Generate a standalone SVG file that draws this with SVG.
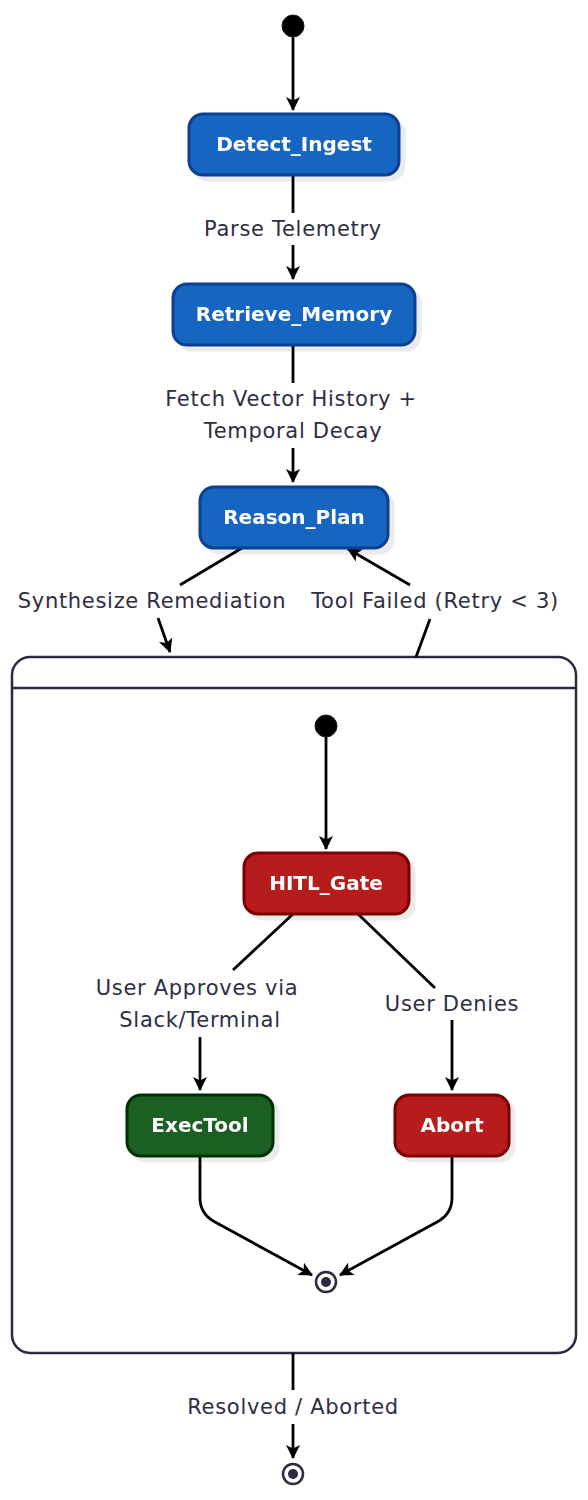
<svg xmlns="http://www.w3.org/2000/svg" width="588" height="1500" viewBox="0 0 588 1500">
<defs>
<marker id="ah" viewBox="0 0 14 14" markerWidth="14" markerHeight="14" refX="13" refY="7" orient="auto" markerUnits="userSpaceOnUse">
<path d="M0,0 L14,7 L0,14 L3.5,7 Z" fill="#000"/>
</marker>
<filter id="sh" x="-10%" y="-10%" width="130%" height="140%">
<feOffset dx="5" dy="5" in="SourceAlpha" result="o"/>
<feFlood flood-color="#000" flood-opacity="0.08"/>
<feComposite operator="in" in2="o"/>
<feMerge><feMergeNode/><feMergeNode in="SourceGraphic"/></feMerge>
</filter>
<style>
.blue{fill:#1565C0;stroke:#0D3F91;stroke-width:3}
.red{fill:#B71C1C;stroke:#7A0000;stroke-width:3}
.green{fill:#1B5E20;stroke:#053305;stroke-width:3}
.nt{font-family:"DejaVu Sans",sans-serif;font-weight:bold;font-size:20px;fill:#fff;text-anchor:middle;dominant-baseline:central}
.lb{font-family:"DejaVu Sans",sans-serif;font-size:21px;letter-spacing:0.7px;fill:#2d2d44;text-anchor:middle;dominant-baseline:central}
.ln{fill:none;stroke:#000;stroke-width:2.8}
.ar{marker-end:url(#ah)}
</style>
</defs>
<g id="container">
<rect x="12" y="657" width="564" height="696" rx="18" fill="none" stroke="#2a2a40" stroke-width="2.5"/>
<line x1="12" y1="688" x2="576" y2="688" stroke="#2a2a40" stroke-width="2.5"/>
</g>
<g id="connectors">
<line class="ln ar" x1="293" y1="37" x2="293" y2="110"/>
<line class="ln" x1="293" y1="175" x2="293" y2="213"/>
<line class="ln ar" x1="293" y1="245" x2="293" y2="279"/>
<line class="ln" x1="293" y1="345" x2="293" y2="383"/>
<line class="ln ar" x1="293" y1="448" x2="293" y2="482"/>
<line class="ln" x1="242" y1="548" x2="180" y2="585"/>
<line class="ln ar" x1="158" y1="618" x2="170" y2="652"/>
<line class="ln" x1="416" y1="657" x2="430" y2="619"/>
<line class="ln ar" x1="410" y1="585" x2="348" y2="549"/>
<line class="ln ar" x1="326" y1="737" x2="326" y2="849"/>
<line class="ln" x1="293" y1="914" x2="233" y2="970"/>
<line class="ln ar" x1="200" y1="1037" x2="200" y2="1090"/>
<line class="ln" x1="358" y1="914" x2="435" y2="988"/>
<line class="ln ar" x1="452" y1="1020" x2="452" y2="1090"/>
<path class="ln ar" d="M200,1156 L200,1198 Q200,1214 215,1222 L312,1275"/>
<path class="ln ar" d="M452,1156 L452,1198 Q452,1214 437,1222 L340,1275"/>
<line class="ln" x1="293" y1="1353" x2="293" y2="1390"/>
<line class="ln ar" x1="293" y1="1424" x2="293" y2="1458"/>
</g>
<g id="labels">
<text class="lb" x="293" y="229">Parse Telemetry</text>
<text class="lb" x="291" y="399">Fetch Vector History +</text>
<text class="lb" x="293" y="431">Temporal Decay</text>
<text class="lb" x="152" y="601">Synthesize Remediation</text>
<text class="lb" x="435" y="601">Tool Failed (Retry &lt; 3)</text>
<text class="lb" x="197" y="988">User Approves via</text>
<text class="lb" x="200" y="1020">Slack/Terminal</text>
<text class="lb" x="452" y="1004">User Denies</text>
<text class="lb" x="293" y="1407">Resolved / Aborted</text>
</g>
<g id="start">
<circle cx="293" cy="26" r="11" fill="#000" stroke="#1a1a2e" stroke-width="1"/>
</g>
<g id="Detect_Ingest" filter="url(#sh)">
<rect class="blue" x="189" y="114" width="210" height="61" rx="14"/>
<text class="nt" x="294" y="144">Detect_Ingest</text>
</g>
<g id="Retrieve_Memory" filter="url(#sh)">
<rect class="blue" x="173" y="284" width="242" height="61" rx="14"/>
<text class="nt" x="294" y="314">Retrieve_Memory</text>
</g>
<g id="Reason_Plan" filter="url(#sh)">
<rect class="blue" x="200" y="487" width="188" height="61" rx="14"/>
<text class="nt" x="294" y="517">Reason_Plan</text>
</g>
<g id="inner_start">
<circle cx="326" cy="726" r="11" fill="#000" stroke="#1a1a2e" stroke-width="1"/>
</g>
<g id="HITL_Gate" filter="url(#sh)">
<rect class="red" x="244" y="853" width="165" height="61" rx="14"/>
<text class="nt" x="326" y="883">HITL_Gate</text>
</g>
<g id="ExecTool" filter="url(#sh)">
<rect class="green" x="127" y="1095" width="146" height="61" rx="14"/>
<text class="nt" x="200" y="1125">ExecTool</text>
</g>
<g id="Abort" filter="url(#sh)">
<rect class="red" x="395" y="1095" width="114" height="61" rx="14"/>
<text class="nt" x="452" y="1125">Abort</text>
</g>
<g id="inner_end">
<circle cx="326" cy="1282" r="10" fill="#fff" stroke="#2a2a40" stroke-width="2.5"/>
<circle cx="326" cy="1282" r="5" fill="#2a2a40"/>
</g>
<g id="end">
<circle cx="293" cy="1474" r="10" fill="#fff" stroke="#2a2a40" stroke-width="2.5"/>
<circle cx="293" cy="1474" r="5" fill="#2a2a40"/>
</g>
</svg>
